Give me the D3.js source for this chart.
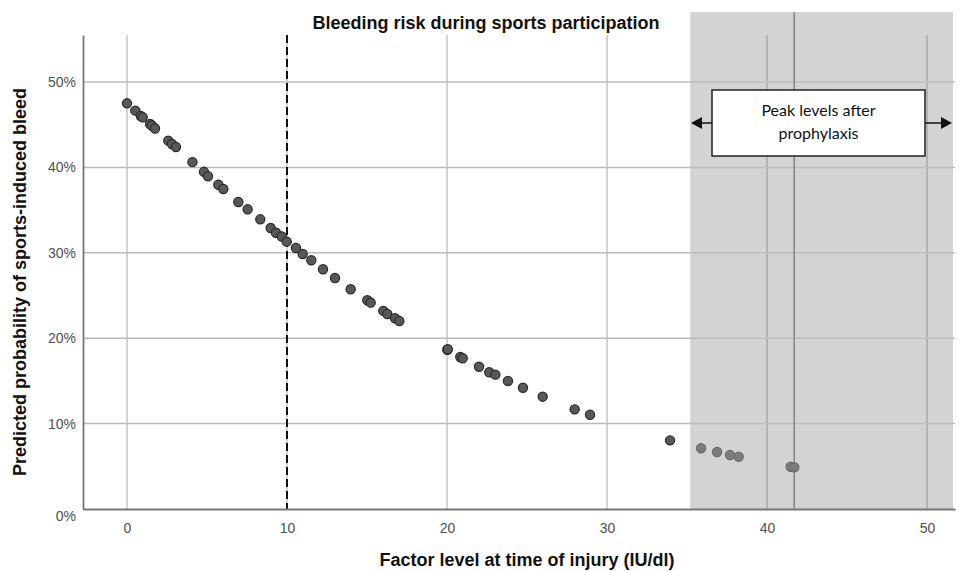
<!DOCTYPE html>
<html>
<head>
<meta charset="utf-8">
<script src="https://cdn.jsdelivr.net/npm/d3@7"></script>
<style>
  body { margin: 0; background: #fff; }
  .tick-lab { font-family: "Liberation Sans Narrow", "Arial Narrow", "Liberation Sans", sans-serif; font-size: 14px; fill: #505050; }
  .ax-title { font-family: "Liberation Sans Narrow", "Arial Narrow", "Liberation Sans", sans-serif; font-weight: bold; font-size: 18px; fill: #111; }
</style>
</head>
<body>
<div id="chart"></div>
<script>
// ------- Data -------
const factorLevel = [0, 0.52, 0.86, 0.98, 1.44, 1.55, 1.75, 2.58, 2.81, 3.06, 4.09, 4.81, 5.06, 5.71, 6.02,
  6.96, 7.54, 8.33, 8.98, 9.31, 9.67, 9.98, 10.56, 10.98, 11.52, 12.25, 13.0, 13.98, 15.02, 15.23,
  16.02, 16.27, 16.75, 17.02, 20.02, 20.05, 20.83, 20.98, 22.0, 22.64, 23.02, 23.81, 24.75, 25.98,
  27.98, 28.94, 33.94, 35.88, 36.88, 37.69, 38.23, 41.48, 41.71]
const bleedProb = [47.5, 46.64, 46.02, 45.87, 45.08, 44.9, 44.55, 43.13, 42.74, 42.39, 40.61, 39.48, 38.96, 37.97, 37.47,
  35.95, 35.09, 33.92, 32.9, 32.35, 31.91, 31.3, 30.56, 29.86, 29.12, 28.07, 27.05, 25.73, 24.44, 24.16,
  23.19, 22.83, 22.33, 22.01, 18.65, 18.7, 17.8, 17.65, 16.66, 16.01, 15.73, 14.99, 14.2, 13.15,
  11.67, 11.03, 8.04, 7.11, 6.67, 6.32, 6.12, 4.95, 4.88]
const xTicks = [0, 10, 20, 30, 40, 50]
const yTicks = [0, 10, 20, 30, 40, 50]
const thresholdLevel = 10
const peakRange = [35.2, 51.75]
const peakLine = 41.7
const chartTitle = "Bleeding risk during sports participation"
const xTitle = "Factor level at time of injury (IU/dl)"
const yTitle = "Predicted probability of sports-induced bleed"
const noteLines = ["Peak levels after", "prophylaxis"]

const data = factorLevel.map((d, i) => ({ x: d, y: bleedProb[i] }))

// ------- Layout -------
const W = 960, H = 571
const plot = { left: 83, right: 955, top: 35, bottom: 509 }

const svg = d3.select("#chart").append("svg")
  .attr("width", W)
  .attr("height", H)

const x = d3.scaleLinear().domain([-2.75, 51.75]).range([plot.left, plot.right])
const y = d3.scaleLinear().domain([0, 55.5]).range([plot.bottom, plot.top])

// grey band for peak levels (reaches above the plot)
svg.append("rect")
  .attr("x", x(peakRange[0]))
  .attr("y", 12)
  .attr("width", x(peakRange[1]) - x(peakRange[0]) - 2)
  .attr("height", plot.bottom - 12)
  .attr("fill", "#d3d3d3")

// grid lines
svg.append("g")
  .selectAll("line")
  .data(xTicks)
  .join("line")
  .attr("x1", d => x(d)).attr("x2", d => x(d))
  .attr("y1", plot.top).attr("y2", plot.bottom)
  .attr("stroke", d => x(d) > x(peakRange[0]) ? "#aaa" : "#c4c4c4")
  .attr("stroke-width", 1.5)

svg.append("g")
  .selectAll("line")
  .data(yTicks.filter(d => d > 0))
  .join("line")
  .attr("x1", plot.left).attr("x2", plot.right)
  .attr("y1", d => y(d)).attr("y2", d => y(d))
  .attr("stroke", "#bcbcbc")
  .attr("stroke-width", 1.5)

// peak line
svg.append("line")
  .attr("x1", x(peakLine)).attr("x2", x(peakLine))
  .attr("y1", 12).attr("y2", plot.bottom)
  .attr("stroke", "#7a7a7a")
  .attr("stroke-width", 1.3)

// threshold dashed line
svg.append("line")
  .attr("x1", x(thresholdLevel)).attr("x2", x(thresholdLevel))
  .attr("y1", plot.top).attr("y2", plot.bottom)
  .attr("stroke", "#111")
  .attr("stroke-width", 2)
  .attr("stroke-dasharray", "8,4")

// axes
const xAxis = svg.append("g")
  .attr("transform", `translate(0,${plot.bottom})`)
  .call(d3.axisBottom(x).tickValues(xTicks).tickSize(0).tickPadding(14))
xAxis.select(".domain").attr("stroke", "#777").attr("stroke-width", 1.8)
xAxis.selectAll("text").attr("class", "tick-lab").attr("font-family", null).attr("font-size", null).attr("fill", null)

const yAxis = svg.append("g")
  .attr("transform", `translate(${plot.left},0)`)
  .call(d3.axisLeft(y).tickValues(yTicks).tickSize(0).tickPadding(7).tickFormat(d => d + "%"))
yAxis.select(".domain").attr("stroke", "#777").attr("stroke-width", 1.8)
yAxis.selectAll("text").attr("class", "tick-lab").attr("font-family", null).attr("font-size", null).attr("fill", null)
yAxis.selectAll(".tick").filter(d => d === 0).select("text").attr("dy", "0.85em")

// points
svg.append("g")
  .selectAll("circle")
  .data(data)
  .join("circle")
  .attr("cx", d => x(d.x))
  .attr("cy", d => y(d.y))
  .attr("r", 4.6)
  .attr("fill", d => d.x > peakRange[0] ? "#7c7c7c" : "#585858")
  .attr("stroke", d => d.x > peakRange[0] ? "#6a6a6a" : "#2a2a2a")
  .attr("stroke-width", 1.2)

// annotation box with arrows
const box = { x0: 712, x1: 925, y0: 90, y1: 156 }
const midY = (box.y0 + box.y1) / 2
svg.append("line").attr("x1", box.x0).attr("x2", 700).attr("y1", midY).attr("y2", midY).attr("stroke", "#111").attr("stroke-width", 1.5)
svg.append("line").attr("x1", box.x1).attr("x2", 942).attr("y1", midY).attr("y2", midY).attr("stroke", "#111").attr("stroke-width", 1.5)
svg.append("path").attr("d", `M691,${midY} L702,${midY - 6} L702,${midY + 6} Z`).attr("fill", "#111")
svg.append("path").attr("d", `M952,${midY} L941,${midY - 6} L941,${midY + 6} Z`).attr("fill", "#111")
svg.append("rect")
  .attr("x", box.x0).attr("y", box.y0)
  .attr("width", box.x1 - box.x0).attr("height", box.y1 - box.y0)
  .attr("fill", "#fff").attr("stroke", "#222").attr("stroke-width", 1.5)
svg.append("text")
  .attr("x", (box.x0 + box.x1) / 2)
  .attr("y", 116)
  .attr("text-anchor", "middle")
  .attr("font-family", "Lato, 'Open Sans', sans-serif")
  .attr("font-size", 16)
  .attr("fill", "#111")
  .selectAll("tspan")
  .data(noteLines)
  .join("tspan")
  .attr("x", (box.x0 + box.x1) / 2)
  .attr("dy", (d, i) => i === 0 ? 0 : 23)
  .text(d => d)

// titles
svg.append("text")
  .attr("x", 486).attr("y", 29)
  .attr("text-anchor", "middle")
  .attr("font-family", "'Liberation Sans', Arial, sans-serif")
  .attr("font-weight", "bold")
  .attr("font-size", 18)
  .attr("fill", "#111")
  .text(chartTitle)

svg.append("text")
  .attr("class", "ax-title")
  .attr("x", 527).attr("y", 566)
  .attr("text-anchor", "middle")
  .text(xTitle)

svg.append("text")
  .attr("transform", "translate(26,282) rotate(-90)")
  .attr("text-anchor", "middle")
  .attr("font-family", "'Liberation Sans', Arial, sans-serif")
  .attr("font-weight", "bold")
  .attr("font-size", 18)
  .attr("fill", "#111")
  .text(yTitle)
</script>
</body>
</html>
